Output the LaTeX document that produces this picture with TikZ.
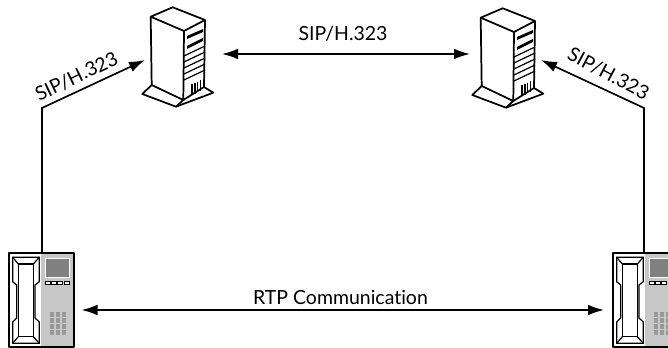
\documentclass[tikz,border=0pt]{standalone}
\usepackage{fontspec}
\setmainfont{Lato}[Ligatures=CommonOff]
\usetikzlibrary{arrows.meta}
\tikzset{
  link/.style={line width=1.25pt,draw=black},
  arrowed/.style={link,-{Latex[length=12pt,width=8pt]}},
  both/.style={link,{Latex[length=12pt,width=8pt]}-{Latex[length=12pt,width=8pt]}},
  lbl/.style={font=\fontsize{14.6}{17}\selectfont,inner sep=0pt,text=black},
  outline/.style={line width=1.3pt,draw=black,line join=round},
  thin/.style={line width=0.9pt,draw=black},
  server/.pic={
    \fill[white] (172.7,7.3)--(150.7,16.7)--(151.7,85)--(142.3,94)--(176,106.7)--(213.3,92.7)--(204,87)--(205,20)--cycle;
    \draw[outline] (172.7,7.3)--(150.7,16.7)--(184,31)--(205,20)--cycle;
    \draw[outline] (150.7,16.7)--(151.7,85)--(183.3,100)--(184,31);
    \draw[outline] (205,20)--(204,87)--(183.3,100);
    \draw[outline] (151.7,85)--(142.3,94)--(176,106.7)--(183.3,100);
    \draw[outline] (204,87)--(213.3,92.7)--(176,106.7);
    \fill (187,36)--(203,29)--(203,32)--(187,39)--cycle;
    \fill (187,46)--(203,38)--(203,41)--(187,49)--cycle;
    \draw[thin] (184,56)--(205,46) (184,62)--(205,52) (184,68)--(205,58) (184,74)--(205,64) (184,80)--(205,70);
    \foreach \i in {0,1,2,3} {
      \draw[line width=1pt] ({192+\i*2.9},{84-\i*1.2})--({192+\i*2.9},{95-\i*1.4});
    }
    \fill (189,97) circle (0.7);
  },
  phone/.pic={
    \fill[white] (9,252.7) rectangle (74,347);
    \fill[black!22] (41,253) rectangle (74,347);
    \draw[outline] (9,252.7) rectangle (74,347);
    \draw[thin] (12.7,257.3)--(39.3,257.3)--(39.3,281.7)--(35,285)--(35,318)--(39.3,322)--(39.3,343.3)--(12.7,343.3)--(12.7,322)--(16.7,318)--(16.7,285)--(12.7,281.7)--cycle;
    \draw[thin] (18.3,264)--(33.3,264)--(33.3,336.7)--(18.3,336.7)--cycle;
    \draw[thin] (12.7,257.3)--(18.3,264) (39.3,257.3)--(33.3,264) (12.7,343.3)--(18.3,336.7) (39.3,343.3)--(33.3,336.7);
    \fill[white] (45,258.3) rectangle (69.6,278);
    \fill[black!50] (46,259.3) rectangle (68.6,277);
    \foreach \i in {0,1,2,3} {
      \draw[line width=0.6pt,fill=white] ({45.3+\i*6.2},281) rectangle ({50.3+\i*6.2},284);
    }
    \foreach \r in {0,1,2,3} \foreach \c in {0,1,2} {
      \fill[black!40] ({49.5+\c*6},{312.5+\r*6}) rectangle ({53.8+\c*6},{316.8+\r*6});
    }
  }
}
\begin{document}
\begin{tikzpicture}[x=0.75pt,y=-0.75pt]
\useasboundingbox (0,0) rectangle (668,348);
\clip (0,0) rectangle (668,348);
\pic (srvL) at (0,0) {server};
\pic (srvR) at (330,1) {server};
\pic (telL) at (0,0) {phone};
\pic (telR) at (604,0) {phone};
\coordinate (srvLW) at (145,60);
\coordinate (srvLE) at (222,54);
\coordinate (srvRW) at (470,54);
\coordinate (srvRE) at (541,60);
\coordinate (telLN) at (42,252);
\coordinate (telRN) at (644,252);
\coordinate (telLE) at (81.5,310);
\coordinate (telRW) at (604,310);
\coordinate (bendL) at (42,108);
\coordinate (bendR) at (644,108);
\draw[both] (srvLE)--(srvRW);
\draw[both] (telLE)--(telRW);
\draw[arrowed] (telLN)--(bendL)--(srvLW);
\draw[arrowed] (telRN)--(bendR)--(srvRE);
\node[lbl] (lblTop) at (343,34) {SIP/H.323};
\node[lbl] (lblRtp) at (340.5,297) {RTP Communication};
\node[lbl,rotate=25.5] (lblL) at (76.5,76.5) {SIP/H.323};
\node[lbl,rotate=-28] (lblR) at (608.5,73.5) {SIP/H.323};
\end{tikzpicture}
\end{document}
